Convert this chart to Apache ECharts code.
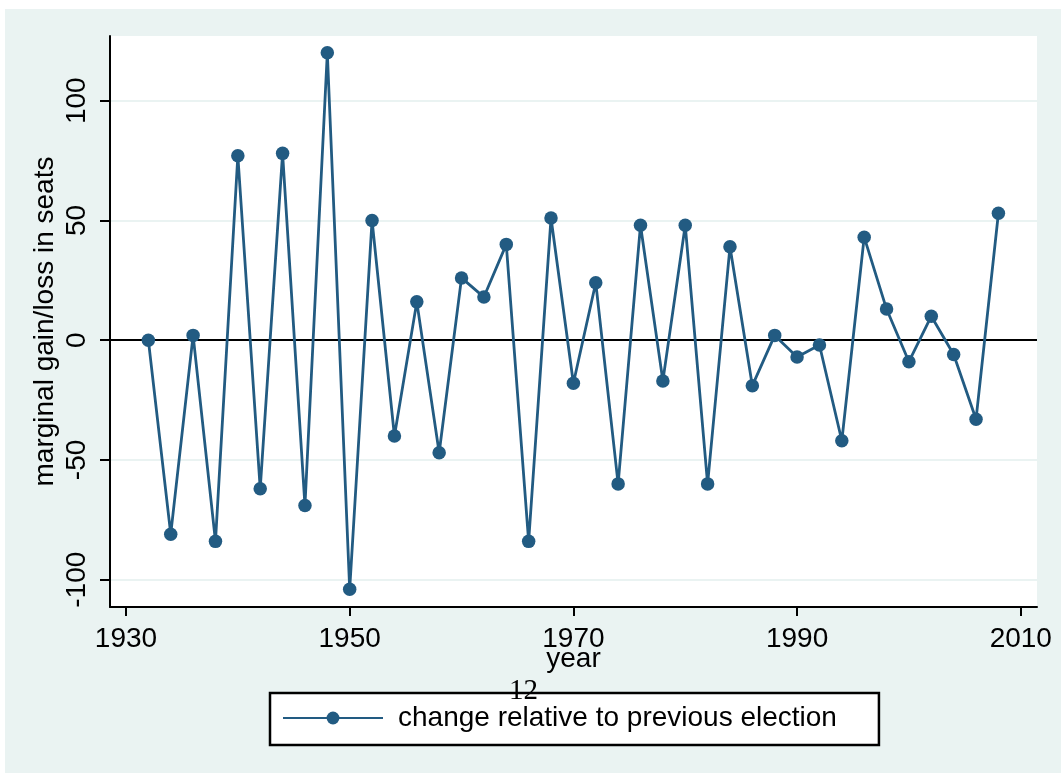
<!DOCTYPE html>
<html>
<head>
<meta charset="utf-8">
<title>Marginal gain/loss in seats by election year</title>
<script src="https://cdn.jsdelivr.net/npm/echarts@6/dist/echarts.min.js"></script>
<style>
  html, body { margin: 0; padding: 0; background: #ffffff; }
  #region { position: absolute; left: 5px; top: 9px; width: 1056px; height: 764px; background: #eaf3f2; }
  #chart { position: absolute; left: 0; top: 0; width: 1061px; height: 773px; }
</style>
</head>
<body>
<div id="region"></div>
<div id="chart"></div>
<script>
// Election years and the change in seats relative to the previous election
const years = [1932, 1934, 1936, 1938, 1940, 1942, 1944, 1946, 1948, 1950,
               1952, 1954, 1956, 1958, 1960, 1962, 1964, 1966, 1968, 1970,
               1972, 1974, 1976, 1978, 1980, 1982, 1984, 1986, 1988, 1990,
               1992, 1994, 1996, 1998, 2000, 2002, 2004, 2006, 2008];
const seatChange = [0, -81, 2, -84, 77, -62, 78, -69, 120, -104,
                    50, -40, 16, -47, 26, 18, 40, -84, 51, -18,
                    24, -60, 48, -17, 48, -60, 39, -19, 2, -7,
                    -2, -42, 43, 13, -9, 10, -6, -33, 53];
const xTickYears = [1930, 1950, 1970, 1990, 2010];
const yTicks = [-100, -50, 0, 50, 100];
const seriesName = 'change relative to previous election';

const lineColor = '#225b82';
const gridColor = '#eaf3f2';
const font = 'Liberation Sans';

const chart = echarts.init(document.getElementById('chart'), null, { renderer: 'canvas' });

chart.setOption({
  animation: false,
  backgroundColor: 'transparent',
  title: {
    text: '12',
    left: 509,
    top: 677,
    padding: 0,
    textStyle: { fontFamily: 'Liberation Serif', fontSize: 29, fontWeight: 'normal', color: '#000' }
  },
  grid: {
    left: 110, top: 36, right: 24, bottom: 166,
    show: true, backgroundColor: '#ffffff', borderWidth: 0
  },
  legend: {
    left: 270,
    top: 693,
    padding: [11, 42, 13, 12],
    backgroundColor: '#ffffff',
    borderColor: '#000000',
    borderWidth: 2.5,
    borderRadius: 0,
    itemWidth: 100,
    itemHeight: 16,
    textStyle: { fontFamily: font, fontSize: 28, color: '#000', lineHeight: 28, padding: [0, 0, 0, 10] },
    data: [seriesName]
  },
  xAxis: {
    type: 'value',
    min: 1928.57,
    max: 2011.45,
    name: 'year',
    nameLocation: 'middle',
    nameGap: 38,
    nameMoveOverlap: false,
    nameTextStyle: { fontFamily: font, fontSize: 28, color: '#000' },
    axisLine: { show: true, onZero: false, lineStyle: { color: '#000', width: 2 } },
    axisTick: { show: true, customValues: xTickYears, length: 9, lineStyle: { color: '#000', width: 2 } },
    axisLabel: {
      customValues: xTickYears, margin: 18, fontFamily: font, fontSize: 28, color: '#000',
      formatter: v => String(v)
    },
    splitLine: { show: false }
  },
  yAxis: {
    type: 'value',
    min: -111.4,
    max: 127,
    name: 'marginal gain/loss in seats',
    nameLocation: 'middle',
    nameGap: 51,
    nameMoveOverlap: false,
    nameTextStyle: { fontFamily: font, fontSize: 28, color: '#000' },
    axisLine: { show: true, lineStyle: { color: '#000', width: 2 } },
    axisTick: { show: true, customValues: yTicks, length: 10, lineStyle: { color: '#000', width: 2 } },
    axisLabel: {
      customValues: yTicks, rotate: 90, margin: 19, fontFamily: font, fontSize: 28, color: '#000',
      formatter: v => String(v)
    },
    splitLine: {
      show: true,
      lineStyle: { color: [gridColor, gridColor, '#000000', gridColor, gridColor], width: 2 }
    }
  },
  series: [{
    name: seriesName,
    type: 'line',
    data: years.map((y, i) => [y, seatChange[i]]),
    symbol: 'circle',
    symbolSize: 13.5,
    showAllSymbol: true,
    lineStyle: { color: lineColor, width: 2.8 },
    itemStyle: { color: lineColor, borderWidth: 0 },
    emphasis: { disabled: true }
  }]
});
</script>
</body>
</html>
